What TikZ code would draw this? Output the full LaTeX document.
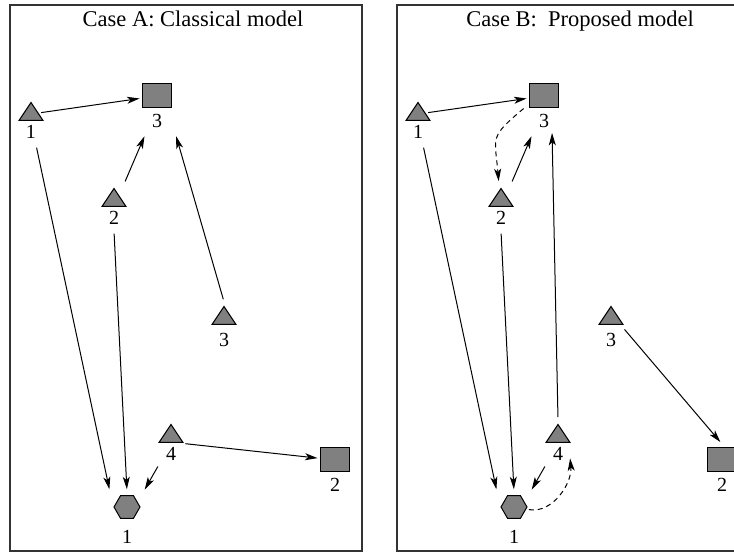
\documentclass[tikz,border=0pt]{standalone}
\usepackage{fontspec}
\setmainfont{Liberation Serif}
\usetikzlibrary{shapes.geometric,arrows.meta,fit}
\begin{document}
\begin{tikzpicture}[x=0.4pt,y=0.4pt,
    agent/.style={draw,fill=black!50,inner sep=0pt,line width=0.4pt},
    tri/.style={agent,isosceles triangle,isosceles triangle stretches=true,shape border rotate=90,
      minimum width=9.6pt,minimum height=7.2pt,anchor=lower side},
    sq/.style={agent,rectangle,minimum width=11.6pt,minimum height=9.6pt},
    hex/.style={agent,regular polygon,regular polygon sides=6,minimum size=10.4pt},
    num/.style={font=\fontsize{8}{9}\selectfont,inner sep=1pt},
    link/.style={-{Stealth[length=5pt,width=2.8pt,inset=1.3pt]},line width=0.4pt,shorten <=1pt,shorten >=1pt},
    back/.style={link,dash pattern=on 2pt off 1.6pt}]
  \useasboundingbox (0,0) rectangle (734,552);
  \clip (0,0) rectangle (734,552);
  \foreach \c/\dx/\ttl in {A/0/{Case A: Classical model},B/387/{Case B:\ \ Proposed model}}{
    \begin{scope}[shift={(\dx,0)}]
      \draw[black!80,line width=0.5pt] (10,1) rectangle (362,547);
      \node[anchor=base,font=\fontsize{9}{11}\selectfont\frenchspacing] (\c title) at (193,525) {\ttl};
      \foreach \n/\s/\x/\y/\t/\d in {t1/tri/31/431/1/0.6pt, t2/tri/114/345/2/0.6pt, t3/tri/224/227/3/2.2pt,
          t4/tri/171/109/4/0.6pt, s3/sq/157/456/3/1pt, s2/sq/335/92/2/1pt, h1/hex/127/45/1/3.3pt}{
        \node[\s,label={[num,name=\c\n n,yshift=-\d]below:\t}] (\c\n) at (\x,\y) {};
        \node[fit=(\c\n)(\c\n n),inner sep=1.2pt] (\c\n f) {};
      }
    \end{scope}
  }
  % case A
  \draw[link] (At1) -- (As3);
  \draw[link] (At2f) -- (As3f);
  \draw[link] (At3f.north) -- (As3f.south east);
  \draw[link] (At1f) -- (Ah1f.north west);
  \draw[link] (At2f.south) -- (Ah1f.north);
  \draw[link] (At4f) -- (Ah1f);
  \draw[link] (At4f.east) -- (As2);
  % case B
  \draw[link] (Bt1) -- (Bs3);
  \draw[link] (Bt2f) -- (Bs3f);
  \draw[back] (Bs3f.west) to[out=220,in=95,looseness=1.5] (Bt2f);
  \draw[link] (Bt4f.north) -- (Bs3n.south east);
  \draw[link] (Bt1f) -- (Bh1f.north west);
  \draw[link] (Bt2f.south) -- (Bh1f.north);
  \draw[link] (Bt4f) -- (Bh1f);
  \draw[back] (Bh1) to[out=-10,in=-85] ([yshift=-5pt]Bt4f.east);
  \draw[link] (Bt3f.east) -- (Bs2f.north);
\end{tikzpicture}
\end{document}
